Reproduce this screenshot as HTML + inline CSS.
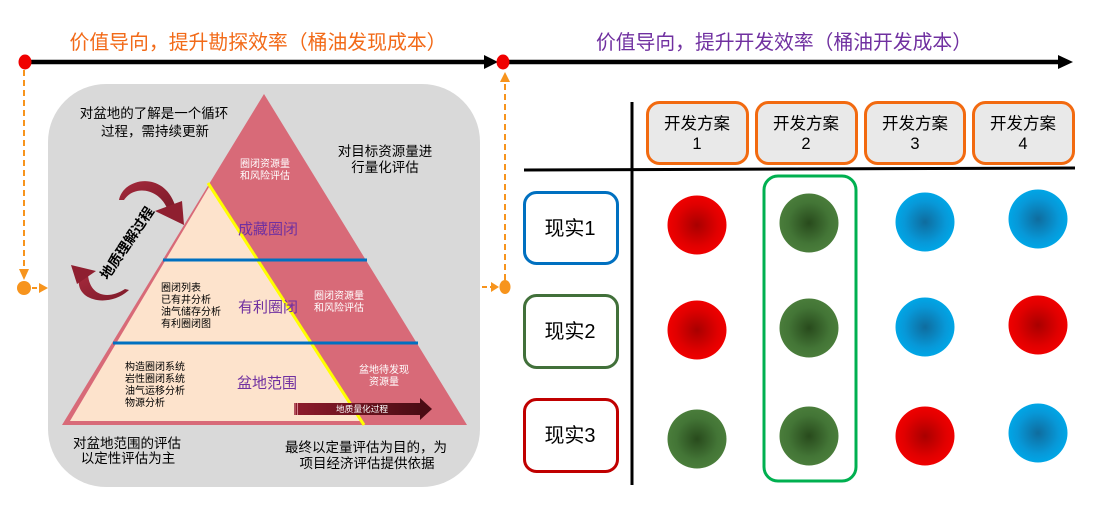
<!DOCTYPE html>
<html><head><meta charset="utf-8"><style>
html,body{margin:0;padding:0;background:#fff;}
svg{display:block;}
text{font-family:"Liberation Sans","Noto Sans CJK SC",sans-serif;}
</style></head><body>
<svg width="1096" height="517" viewBox="0 0 1096 517" xmlns="http://www.w3.org/2000/svg">
<defs>
<radialGradient id="gr" cx="50%" cy="50%" r="50%"><stop offset="0" stop-color="#a80000"/><stop offset="0.7" stop-color="#e00000"/><stop offset="1" stop-color="#f00000"/></radialGradient>
<radialGradient id="gg" cx="50%" cy="50%" r="50%"><stop offset="0" stop-color="#284a1c"/><stop offset="0.7" stop-color="#437536"/><stop offset="1" stop-color="#4a7d3b"/></radialGradient>
<radialGradient id="gb" cx="50%" cy="50%" r="50%"><stop offset="0" stop-color="#0f6c9e"/><stop offset="0.7" stop-color="#0798d8"/><stop offset="1" stop-color="#00a6e6"/></radialGradient>
<linearGradient id="ga" x1="0" y1="0" x2="1" y2="0"><stop offset="0" stop-color="#8e1b2b"/><stop offset="1" stop-color="#4b0c14"/></linearGradient>
<linearGradient id="gc" x1="0" y1="0" x2="1" y2="1"><stop offset="0" stop-color="#a52a3c"/><stop offset="1" stop-color="#7d1a29"/></linearGradient>
</defs>

<!-- top timeline -->
<line x1="25" y1="62" x2="486" y2="62" stroke="#000" stroke-width="4.5"/>
<polygon points="484,55 498,62 484,69" fill="#000"/>
<line x1="503" y1="62" x2="1060" y2="62" stroke="#000" stroke-width="4.5"/>
<polygon points="1058,55 1073,62 1058,69" fill="#000"/>
<ellipse cx="25" cy="62" rx="6.5" ry="7.5" fill="#f00000"/>
<ellipse cx="503" cy="62" rx="6.5" ry="7.5" fill="#f00000"/>

<text x="258" y="49" font-size="20" fill="#f26a18" text-anchor="middle" textLength="377" lengthAdjust="spacingAndGlyphs">价值导向，提升勘探效率（桶油发现成本）</text>
<text x="784" y="49" font-size="20" fill="#7030a0" text-anchor="middle" textLength="376" lengthAdjust="spacingAndGlyphs">价值导向，提升开发效率（桶油开发成本）</text>

<!-- orange dashed connectors -->
<line x1="24" y1="70" x2="24" y2="270" stroke="#f7941d" stroke-width="2" stroke-dasharray="6,4"/>
<polygon points="19,269 29,269 24,280" fill="#f7941d"/>
<circle cx="24" cy="288" r="7" fill="#f7941d"/>
<line x1="32" y1="288" x2="40" y2="288" stroke="#f7941d" stroke-width="2" stroke-dasharray="5,3"/>
<polygon points="39,283 48,288 39,293" fill="#f7941d"/>

<line x1="505" y1="280" x2="505" y2="82" stroke="#f7941d" stroke-width="2" stroke-dasharray="6,4"/>
<polygon points="500,82 510,82 505,72" fill="#f7941d"/>
<ellipse cx="505" cy="287" rx="5.5" ry="7" fill="#f7941d"/>
<line x1="482" y1="287" x2="492" y2="287" stroke="#f7941d" stroke-width="2" stroke-dasharray="5,3"/>
<polygon points="491,282 499,287 491,292" fill="#f7941d"/>

<!-- gray panel -->
<rect x="48" y="84" width="432" height="403" rx="58" ry="58" fill="#d9d9d9"/>

<!-- pyramid -->
<polygon points="264,94 467,425 62,425" fill="#d86a78"/>
<polygon points="209,187 362,421 70,421" fill="#fde3cc"/>
<line x1="208" y1="183" x2="364" y2="425" stroke="#ffff00" stroke-width="3"/>
<line x1="163" y1="260" x2="367" y2="260" stroke="#0070c0" stroke-width="3"/>
<line x1="113" y1="343" x2="418" y2="343" stroke="#0070c0" stroke-width="3"/>

<!-- quantify arrow -->
<rect x="294" y="403" width="127" height="12" fill="url(#ga)"/>
<polygon points="420,398 432,409 420,420" fill="#4b0c14"/>
<line x1="295" y1="403" x2="295" y2="415" stroke="#e8a0a8" stroke-width="0.8"/>
<line x1="297.5" y1="403" x2="297.5" y2="415" stroke="#e8a0a8" stroke-width="0.8"/>
<text x="362" y="412" font-size="8.7" fill="#fff" text-anchor="middle">地质量化过程</text>

<!-- curved arrows -->
<path d="M119,200 C123,178 163,170 175,205 L167,208 C158,188 134,185 124,200 Z" fill="url(#gc)"/>
<polygon points="155,211 182,201 184,225" fill="#8f1f30"/>

<path d="M79,278 C75,302 110,308 129,290 L125,289 C108,300 90,296 88,275 Z" fill="url(#gc)"/>
<polygon points="71,265 96,271 77,284" fill="#8f1f30"/>

<text x="127" y="243" font-size="14" fill="#000" text-anchor="middle" dominant-baseline="central" transform="rotate(-56 127 243)" font-weight="bold">地质理解过程</text>

<!-- panel texts -->
<g font-size="13.5" fill="#000" text-anchor="middle">
<text x="154" y="118">对盆地的了解是一个循环</text>
<text x="155" y="136">过程，需持续更新</text>
<text x="385" y="156">对目标资源量进</text>
<text x="385" y="172">行量化评估</text>
<text x="127" y="448">对盆地范围的评估</text>
<text x="128" y="463">以定性评估为主</text>
<text x="366" y="452">最终以定量评估为目的，为</text>
<text x="367" y="468">项目经济评估提供依据</text>
</g>
<g font-size="10" fill="#fff" text-anchor="middle">
<text x="265" y="167">圈闭资源量</text>
<text x="265" y="179">和风险评估</text>
<text x="339" y="299">圈闭资源量</text>
<text x="339" y="311">和风险评估</text>
<text x="384" y="373">盆地待发现</text>
<text x="384" y="385">资源量</text>
</g>
<g font-size="15" fill="#7030a0" text-anchor="middle">
<text x="268" y="234">成藏圈闭</text>
<text x="268" y="312">有利圈闭</text>
<text x="267" y="388">盆地范围</text>
</g>
<g font-size="10" fill="#000">
<text x="161" y="291">圈闭列表</text>
<text x="161" y="303">已有井分析</text>
<text x="161" y="315">油气储存分析</text>
<text x="161" y="327">有利圈闭图</text>
<text x="125" y="370">构造圈闭系统</text>
<text x="125" y="382">岩性圈闭系统</text>
<text x="125" y="394">油气运移分析</text>
<text x="125" y="406">物源分析</text>
</g>

<!-- table -->
<line x1="632" y1="102" x2="632" y2="485" stroke="#000" stroke-width="3"/>
<line x1="524" y1="170" x2="1075" y2="168" stroke="#000" stroke-width="3"/>

<g fill="#e9e9e9" stroke="#f26a10" stroke-width="3">
<rect x="647.5" y="102.5" width="100" height="61" rx="12"/>
<rect x="756.5" y="102.5" width="100" height="61" rx="12"/>
<rect x="865.5" y="102.5" width="99" height="61" rx="12"/>
<rect x="973.5" y="102.5" width="100" height="61" rx="12"/>
</g>
<g font-size="16.5" fill="#000" text-anchor="middle">
<text x="697" y="129">开发方案</text><text x="697" y="149">1</text>
<text x="806" y="129">开发方案</text><text x="806" y="149">2</text>
<text x="915" y="129">开发方案</text><text x="915" y="149">3</text>
<text x="1023" y="129">开发方案</text><text x="1023" y="149">4</text>
</g>

<rect x="524.5" y="192.5" width="93" height="71" rx="12" fill="#fff" stroke="#0070c0" stroke-width="3"/>
<rect x="524.5" y="295.5" width="93" height="72" rx="12" fill="#fff" stroke="#41703a" stroke-width="3"/>
<rect x="524.5" y="399.5" width="93" height="72" rx="12" fill="#fff" stroke="#c00000" stroke-width="3"/>
<g font-size="20" fill="#000" text-anchor="middle">
<text x="570" y="235">现实1</text>
<text x="570" y="338">现实2</text>
<text x="570" y="442">现实3</text>
</g>

<rect x="764" y="176" width="92" height="305" rx="14" fill="none" stroke="#00b050" stroke-width="3"/>

<ellipse cx="697" cy="225" rx="29.5" ry="29.5" fill="url(#gr)"/>
<ellipse cx="809" cy="223" rx="29.5" ry="29.5" fill="url(#gg)"/>
<ellipse cx="925" cy="222" rx="29.5" ry="29.5" fill="url(#gb)"/>
<ellipse cx="1038" cy="219" rx="29.5" ry="29.5" fill="url(#gb)"/>

<ellipse cx="697" cy="330" rx="29.5" ry="29.5" fill="url(#gr)"/>
<ellipse cx="809" cy="328" rx="29.5" ry="29.5" fill="url(#gg)"/>
<ellipse cx="925" cy="327" rx="29.5" ry="29.5" fill="url(#gb)"/>
<ellipse cx="1038" cy="325" rx="29.5" ry="29.5" fill="url(#gr)"/>

<ellipse cx="697" cy="439" rx="29.5" ry="29.5" fill="url(#gg)"/>
<ellipse cx="809" cy="436" rx="29.5" ry="29.5" fill="url(#gg)"/>
<ellipse cx="925" cy="436" rx="29.5" ry="29.5" fill="url(#gr)"/>
<ellipse cx="1038" cy="433" rx="29.5" ry="29.5" fill="url(#gb)"/>
</svg>
</body></html>
